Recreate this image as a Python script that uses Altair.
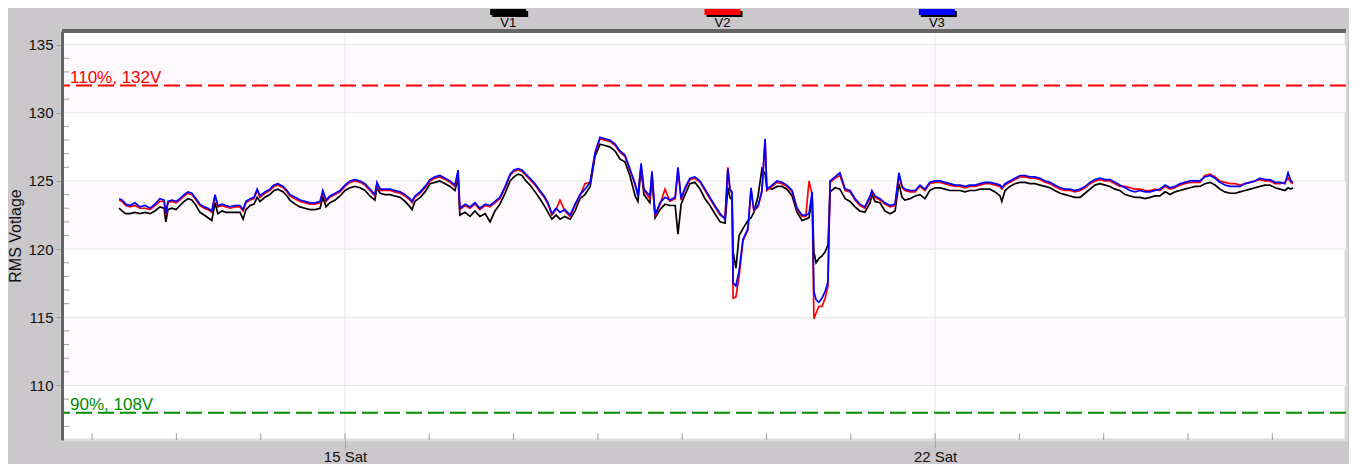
import altair as alt
import pandas as pd

# ---------------- data ----------------
# hours after 2014-03-12 00:00
hours = [
    7.7, 8.5, 9.6, 10.8, 12.2, 13.6, 15.1, 16.5, 17.9, 19.3,
    20.5, 21.0, 21.6, 22.7, 23.9, 25.0, 26.2, 27.3, 28.4, 29.6,
    30.7, 31.9, 33.0, 34.1, 35.0, 35.8, 37.0, 38.1, 39.3, 40.7,
    42.1, 43.0, 43.8, 45.0, 46.1, 47.0, 47.8, 49.2, 50.6, 51.8,
    52.9, 54.4, 55.5, 56.3, 57.8, 59.2, 60.6, 62.0, 63.5, 64.9,
    65.7, 66.6, 67.7, 69.2, 70.6, 72.0, 73.4, 74.8, 76.3, 77.7,
    79.1, 80.5, 81.1, 82.0, 83.4, 84.8, 86.2, 87.7, 89.1, 90.5,
    91.1, 91.9, 93.4, 94.8, 96.2, 97.6, 99.0, 100.5, 101.9, 103.3,
    104.2, 104.7, 106.2, 107.6, 109.0, 110.4, 111.9, 113.3, 114.7, 116.1,
    117.6, 119.0, 120.1, 121.3, 122.4, 123.5, 124.7, 126.1, 127.5, 128.7,
    129.8,
    130.9, 132.1, 133.2, 134.6, 136.1, 137.5, 138.9, 140.3, 141.8, 143.2,
    144.6, 146.0, 147.4, 148.9, 150.3, 151.7, 153.1, 154.6, 155.4, 156.3,
    157.1, 158.8, 159.4, 160.3, 161.7, 163.1, 164.5, 166.0, 166.8, 167.7,
    168.8, 170.2, 171.6, 173.1, 174.5, 175.9, 177.3, 178.8, 180.2, 181.0,
    181.6, 182.2, 182.5, 183.3, 184.2, 185.3, 186.7, 187.6, 188.4, 189.6,
    190.7, 191.6, 192.1, 193.6, 195.0, 196.4, 197.8, 199.3, 200.7, 202.1,
    203.2, 204.1, 205.0, 205.5, 206.1, 206.9, 207.8, 208.7, 209.5, 210.1,
    211.5, 212.9, 214.4, 215.8,
    217.2, 218.6, 220.0, 221.5, 222.0, 222.9, 224.3, 225.7, 227.2, 228.6,
    229.7, 230.6, 231.4, 232.9, 234.3, 235.7, 237.1, 238.5, 240.0, 241.4,
    242.8, 244.2, 245.7, 247.1, 248.5, 249.9, 251.4, 252.8, 254.2, 255.6,
    257.1, 258.5, 259.0, 259.9, 261.3, 262.7, 264.2, 265.6, 267.0, 268.4,
    269.9, 271.3, 272.7, 274.1, 275.6, 277.0, 278.4, 279.8, 281.3, 282.7,
    284.1, 285.5, 286.9, 288.4, 289.8, 291.2, 292.6, 294.1, 295.5, 296.9,
    298.3, 299.8, 301.2, 302.6, 304.0, 305.5, 306.9, 308.3, 309.7, 311.1,
    312.6, 314.0, 315.4, 316.8, 318.3, 319.7, 321.1, 322.5, 324.0, 325.4,
    326.8, 328.2, 329.7, 331.1, 332.5, 333.9, 335.3, 336.8, 338.2, 339.6,
    340.5, 341.3, 341.9,
]

v1 = [
    123.0, 122.8, 122.6, 122.6, 122.7, 122.6, 122.7, 122.6, 122.8, 123.1,
    123.0, 122.0, 122.9, 123.0, 122.9, 123.2, 123.5, 123.7, 123.6, 123.2,
    122.7, 122.5, 122.3, 122.1, 123.4, 122.6, 122.8, 122.7, 122.7, 122.7,
    122.7, 122.2, 122.9, 123.2, 123.3, 123.8, 123.5, 123.8, 124.0, 124.3,
    124.4, 124.2, 123.9, 123.6, 123.3, 123.1, 123.0, 122.9, 122.9, 123.0,
    123.8, 123.1, 123.4, 123.6, 123.9, 124.3, 124.5, 124.6, 124.5, 124.3,
    123.9, 123.6, 124.5, 124.1, 124.0, 124.0, 123.9, 123.8, 123.5, 123.1,
    122.9, 123.5, 123.8, 124.2, 124.8, 124.9, 125.0, 124.8, 124.6, 124.3,
    125.2, 122.5, 122.7, 122.4, 122.8, 122.4, 122.6, 122.0, 122.8, 123.3,
    124.1, 125.0, 125.3, 125.5, 125.4, 125.0, 124.7, 124.2, 123.7, 123.2,
    122.7,
    122.2, 122.5, 122.2, 122.4, 122.2, 122.8, 123.7, 124.0, 124.6, 126.8,
    127.7, 127.6, 127.5, 127.2, 126.6, 126.4, 125.4, 123.9, 123.5, 125.9,
    124.0, 123.4, 125.2, 122.3, 122.9, 123.3, 123.2, 123.2, 121.1, 123.3,
    124.0, 124.8, 124.9, 124.4, 123.7, 123.2, 122.6, 122.0, 121.9, 124.5,
    123.8, 123.6, 119.8, 118.6, 121.0, 121.5, 122.1, 122.3, 122.7, 123.9,
    125.9, 125.5, 124.5, 124.4, 124.6, 124.6, 124.4, 123.9, 122.7, 122.1,
    122.2, 122.3, 123.8, 119.8, 119.0, 119.3, 119.5, 119.8, 120.3, 124.2,
    124.5, 124.4, 123.7, 123.5,
    123.1, 122.8, 122.7, 123.4, 124.0, 123.5, 123.4, 122.8, 122.6, 122.8,
    124.8, 123.8, 123.6, 123.7, 123.9, 124.0, 123.7, 124.3, 124.5, 124.5,
    124.4, 124.3, 124.3, 124.3, 124.2, 124.3, 124.3, 124.4, 124.4, 124.4,
    124.2, 123.9, 123.5, 124.3, 124.6, 124.8, 124.9, 124.9, 124.8, 124.8,
    124.7, 124.6, 124.5, 124.3, 124.1, 124.0, 123.9, 123.8, 123.8, 124.1,
    124.4, 124.7, 124.8, 124.7, 124.6, 124.4, 124.3, 124.0, 123.9, 123.8,
    123.8, 123.7, 123.8, 123.9, 123.9, 124.2, 124.0, 124.2, 124.3, 124.4,
    124.5, 124.6, 124.6, 124.8, 124.9, 124.7, 124.4, 124.2, 124.1, 124.1,
    124.2, 124.3, 124.4, 124.5, 124.6, 124.7, 124.7, 124.5, 124.4, 124.3,
    124.5, 124.4, 124.5,
]

v2 = [
    123.6, 123.5, 123.2, 123.1, 123.2, 123.0, 123.0, 122.9, 123.2, 123.5,
    123.5, 122.5, 123.4, 123.5, 123.4, 123.6, 123.9, 124.1, 124.0, 123.6,
    123.2, 123.0, 122.9, 122.7, 123.9, 123.1, 123.2, 123.1, 123.0, 123.1,
    123.1, 122.8, 123.4, 123.6, 123.7, 124.3, 123.8, 124.1, 124.3, 124.6,
    124.7, 124.5, 124.2, 123.9, 123.7, 123.5, 123.4, 123.3, 123.3, 123.4,
    124.2, 123.5, 123.8, 124.0, 124.2, 124.6, 124.9, 125.0, 124.9, 124.7,
    124.3, 123.9, 124.8, 124.3, 124.3, 124.3, 124.2, 124.1, 123.9, 123.6,
    123.4, 123.8, 124.1, 124.5, 125.0, 125.2, 125.3, 125.1, 124.9, 124.6,
    125.6, 122.9, 123.2, 123.0, 123.3, 122.9, 123.2, 123.1, 123.4, 123.7,
    124.5, 125.4, 125.7, 125.8, 125.7, 125.4, 125.1, 124.7, 124.2, 123.8,
    123.3,
    122.5, 122.9, 123.6, 122.8, 122.4, 123.2, 123.9, 124.8, 124.9, 127.0,
    128.1, 128.0, 127.9, 127.6, 127.1, 126.8, 125.8, 124.7, 124.0, 126.1,
    124.3, 123.7, 125.5, 122.4, 123.3, 124.4, 123.5, 123.7, 125.8, 123.6,
    124.4, 125.1, 125.2, 124.9, 124.3, 123.7, 123.1, 122.5, 122.3, 126.0,
    124.3, 124.1, 116.4, 116.5, 118.0, 120.6, 121.4, 124.3, 122.8, 123.1,
    124.2, 128.0, 124.3, 124.6, 124.9, 124.8, 124.6, 124.2, 122.9, 122.4,
    122.4, 125.0, 124.0, 114.9, 115.3, 115.8, 115.8, 116.4, 117.3, 124.9,
    125.2, 125.4, 124.3, 124.2,
    123.6, 123.2, 123.0, 123.8, 124.2, 123.8, 123.6, 123.3, 123.1, 123.2,
    125.4, 124.5, 124.3, 124.2, 124.2, 124.6, 124.3, 124.8, 124.9, 124.9,
    124.8, 124.7, 124.6, 124.6, 124.5, 124.6, 124.6, 124.7, 124.8, 124.8,
    124.7, 124.6, 124.4, 124.7, 124.9, 125.1, 125.3, 125.3, 125.2, 125.2,
    125.1, 124.9, 124.8, 124.6, 124.4, 124.3, 124.3, 124.2, 124.3, 124.5,
    124.8, 125.0, 125.1, 125.0, 125.0, 124.8, 124.6, 124.6, 124.5, 124.4,
    124.4, 124.3, 124.3, 124.4, 124.3, 124.6, 124.4, 124.5, 124.7, 124.8,
    124.9, 124.9, 124.9, 125.4, 125.5, 125.3, 125.0, 124.9, 124.8, 124.8,
    124.7, 124.8, 124.9, 125.0, 125.1, 125.0, 125.0, 124.8, 124.8, 124.9,
    125.2, 124.9, 124.8,
]

v3 = [
    123.7, 123.6, 123.3, 123.2, 123.4, 123.1, 123.2, 123.0, 123.3, 123.7,
    123.6, 122.6, 123.5, 123.6, 123.5, 123.7, 124.0, 124.2, 124.1, 123.7,
    123.3, 123.1, 123.0, 122.8, 124.0, 123.2, 123.3, 123.2, 123.1, 123.2,
    123.2, 122.9, 123.5, 123.7, 123.8, 124.4, 123.9, 124.2, 124.4, 124.7,
    124.8, 124.6, 124.3, 124.0, 123.8, 123.6, 123.5, 123.4, 123.4, 123.5,
    124.3, 123.6, 123.9, 124.1, 124.3, 124.7, 125.0, 125.1, 125.0, 124.8,
    124.4, 124.0, 124.9, 124.4, 124.4, 124.4, 124.3, 124.2, 124.0, 123.7,
    123.5, 123.9, 124.2, 124.6, 125.1, 125.3, 125.4, 125.2, 125.0, 124.7,
    125.8, 123.0, 123.3, 123.1, 123.4, 123.0, 123.3, 123.2, 123.5, 123.8,
    124.6, 125.5, 125.8, 125.9, 125.8, 125.5, 125.2, 124.8, 124.3, 123.9,
    123.4,
    122.6, 123.0, 122.7, 122.9, 122.5, 123.3, 124.0, 124.4, 124.9, 127.1,
    128.2, 128.1, 128.0, 127.7, 127.2, 126.9, 125.9, 124.8, 123.9, 126.3,
    124.4, 123.9, 125.7, 122.5, 123.4, 123.8, 123.6, 123.8, 126.0, 123.7,
    124.5, 125.2, 125.3, 125.0, 124.4, 123.8, 123.2, 122.6, 122.2, 125.9,
    124.4, 124.2, 117.5, 117.3, 118.4, 120.7, 121.5, 124.5, 122.9, 123.2,
    124.3, 128.1, 124.4, 124.7, 125.0, 124.9, 124.7, 124.3, 123.0, 122.5,
    122.5, 122.6, 124.2, 116.9, 116.3, 116.1, 116.4, 116.9, 117.6, 125.0,
    125.3, 125.6, 124.4, 124.3,
    123.7, 123.3, 123.1, 123.9, 124.3, 123.9, 123.7, 123.4, 123.2, 123.3,
    125.6, 124.6, 124.4, 124.3, 124.3, 124.7, 124.4, 124.9, 125.0, 125.0,
    124.9, 124.8, 124.7, 124.7, 124.6, 124.7, 124.7, 124.8, 124.9, 124.9,
    124.8, 124.7, 124.5, 124.8, 125.0, 125.2, 125.4, 125.4, 125.3, 125.3,
    125.2, 125.0, 124.9, 124.7, 124.5, 124.4, 124.4, 124.3, 124.4, 124.6,
    124.9, 125.1, 125.2, 125.1, 125.1, 124.9, 124.7, 124.5, 124.3, 124.2,
    124.3, 124.2, 124.2, 124.3, 124.4, 124.7, 124.5, 124.6, 124.8, 124.9,
    125.0, 125.0, 125.0, 125.3, 125.4, 125.2, 124.9, 124.7, 124.6, 124.6,
    124.6, 124.8, 124.9, 125.0, 125.2, 125.1, 125.1, 124.9, 124.9, 124.8,
    125.6, 125.0, 124.9,
]

series_names = ["V1", "V2", "V3"]
series_colors = ["#000000", "#FF0000", "#0000FF"]

y_major = [110, 115, 120, 125, 130, 135]
y_minor = [107, 108, 109, 111, 112, 113, 114, 116, 117, 118, 119,
           121, 122, 123, 124, 126, 127, 128, 129, 131, 132, 133, 134]
band_lo = [110, 120, 130]
band_hi = [115, 125, 135]

day_ticks = ["2014-03-12", "2014-03-13", "2014-03-14", "2014-03-15", "2014-03-16",
             "2014-03-17", "2014-03-18", "2014-03-19", "2014-03-20", "2014-03-21",
             "2014-03-22", "2014-03-23", "2014-03-24", "2014-03-25", "2014-03-26"]
label_days = ["2014-03-15", "2014-03-22"]

limit_values = [132, 108]
limit_labels = ["110%, 132V", "90%, 108V"]
limit_colors = ["#FF0000", "#008C00"]

x_start = "2014-03-11 15:26"
x_end = "2014-03-26 20:59"

assert len(hours) == len(v1) == len(v2) == len(v3)

# ---------------- tables ----------------
base = pd.Timestamp("2014-03-12")
times = base + pd.to_timedelta(hours, unit="h")
df = pd.concat(
    [pd.DataFrame({"time": times, "volts": vals, "series": name})
     for name, vals in zip(series_names, [v1, v2, v3])],
    ignore_index=True,
)
bands_df = pd.DataFrame({"lo": band_lo, "hi": band_hi})
ymaj_df = pd.DataFrame({"v": y_major})
ymin_df = pd.DataFrame({"v": y_minor,
                        "t0": pd.Timestamp(x_start),
                        "t1": pd.Timestamp(x_start) + pd.Timedelta(hours=2)})
days_df = pd.DataFrame({"t": pd.to_datetime(day_ticks)})
sat_df = pd.DataFrame({"t": pd.to_datetime(label_days)})
limits_df = pd.DataFrame({"v": limit_values, "label": limit_labels, "c": limit_colors})
legend_df = pd.DataFrame({"series": series_names, "c": series_colors})

FONT = "Liberation Sans"

def dt(s):
    ts = pd.Timestamp(s)
    return alt.DateTime(year=ts.year, month=ts.month, date=ts.day,
                        hours=ts.hour, minutes=ts.minute)

xscale = alt.Scale(domain=[dt(x_start), dt(x_end)], nice=False)
yscale = alt.Scale(domain=[106, 136], nice=False, zero=False)

xaxis = alt.Axis(values=[dt(d) for d in label_days], format="%d %a",
                 tickSize=8, tickColor="#A0A0A0", labelFontSize=15,
                 labelColor="#111111", labelPadding=1, labelFont=FONT,
                 domain=False, grid=False, labelFlush=False, zindex=1)
yaxis = alt.Axis(values=y_major, title="RMS Votlage", titleFontSize=16,
                 titleFontWeight="normal", titleColor="#111111", titlePadding=4,
                 titleFont=FONT, labelFont=FONT, labelFontSize=15,
                 labelColor="#111111", labelPadding=3, tickSize=6,
                 tickColor="#9A9A9A", domainColor="#646464", domainWidth=3,
                 grid=False, zindex=1)

X = lambda f: alt.X(f, scale=xscale, axis=xaxis, title=None)
Y = lambda f: alt.Y(f, scale=yscale, axis=yaxis)

bands = alt.Chart(bands_df).mark_rect(color="#FDF9FD").encode(
    y=Y("lo:Q"), y2="hi:Q")

ygrid = alt.Chart(ymaj_df).mark_rule(color="#E6E6E6", strokeWidth=1).encode(
    y=Y("v:Q"))

xgrid = alt.Chart(sat_df).mark_rule(color="#E6E6E6", strokeWidth=1).encode(
    x=X("t:T"))

xminor = alt.Chart(days_df).mark_rule(color="#A0A0A0", strokeWidth=1).encode(
    x=X("t:T"), y=alt.datum(106), y2=alt.datum(106.5))

yminor = alt.Chart(ymin_df).mark_rule(color="#A0A0A0", strokeWidth=1).encode(
    x=X("t0:T"), x2="t1:T", y=Y("v:Q"))

limit_rules = alt.Chart(limits_df).mark_rule(strokeWidth=2, strokeDash=[16, 6]).encode(
    y=Y("v:Q"), color=alt.Color("c:N", scale=None))

limit_text = alt.Chart(limits_df).mark_text(
    align="left", baseline="alphabetic", dy=-3, fontSize=17, font=FONT).encode(
    x=alt.value(8), y=Y("v:Q"), text="label:N", color=alt.Color("c:N", scale=None))

lines = alt.Chart(df).mark_line(strokeWidth=1.7, interpolate="linear").encode(
    x=X("time:T"), y=Y("volts:Q"),
    color=alt.Color("series:N",
                    scale=alt.Scale(domain=series_names, range=series_colors),
                    legend=None),
)

top_border = alt.Chart(ymaj_df).mark_rule(color="#646464", strokeWidth=3).encode(
    y=alt.datum(136))

main = alt.layer(bands, ygrid, xgrid, xminor, yminor, limit_rules, limit_text,
                 lines, top_border)

lx = alt.X("series:N", scale=alt.Scale(type="point", domain=series_names,
                                       range=[339, 982]), axis=None)
leg_shadow = alt.Chart(legend_df).mark_tick(
    orient="horizontal", size=36, thickness=6, color="#000000", opacity=1,
    xOffset=2, yOffset=2).encode(x=lx, y=alt.value(-19))
leg_swatch = alt.Chart(legend_df).mark_tick(
    orient="horizontal", size=36, thickness=6, opacity=1).encode(
    x=lx, y=alt.value(-19), color=alt.Color("c:N", scale=None))
leg_text = alt.Chart(legend_df).mark_text(
    fontSize=13, baseline="middle", align="center", color="#000000", font=FONT).encode(
    x=lx, y=alt.value(-8), text="series:N")
legend = alt.layer(leg_shadow, leg_swatch, leg_text)

chart = alt.layer(main, legend).resolve_scale(
    x="independent", y="independent"
).properties(
    width=1284, height=409,
    padding={"left": 54, "right": 3, "top": 23, "bottom": 24},
    autosize=alt.AutoSizeParams(type="none"),
).configure(
    background="#CBC8CC", font=FONT
).configure_view(
    stroke="#DCDCDC", strokeWidth=3, fill="#FFFFFF"
)

chart.save("out.html", embed_options={"renderer": "svg", "actions": False})
